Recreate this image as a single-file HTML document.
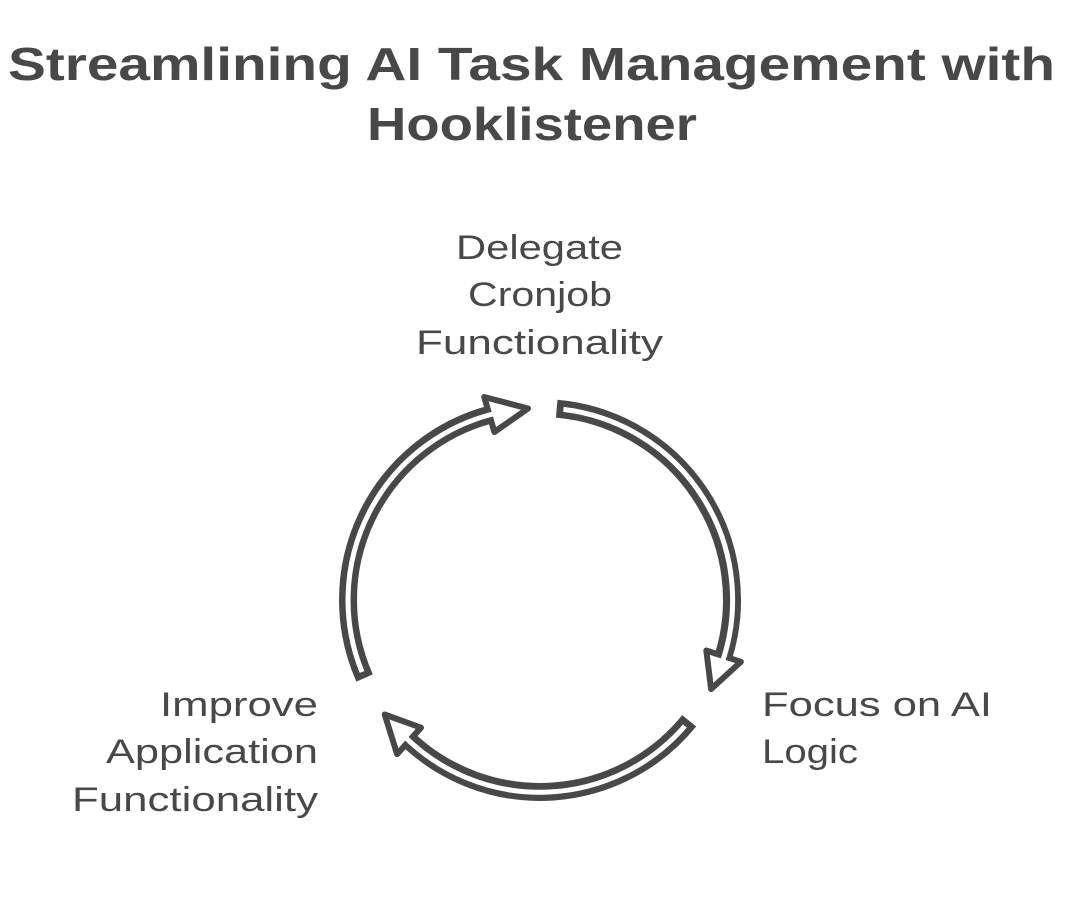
<!DOCTYPE html>
<html><head><meta charset="utf-8"><style>
html,body{margin:0;padding:0;background:#fff;}
svg{display:block;}
text{font-family:"Liberation Sans",sans-serif;fill:#484848;}
.t{font-weight:bold;font-size:46px;}
.l{font-size:34px;}
</style></head><body>
<svg width="1080" height="920" viewBox="0 0 1080 920" xmlns="http://www.w3.org/2000/svg">
<text class="t" x="8" y="80" textLength="1047" lengthAdjust="spacingAndGlyphs">Streamlining AI Task Management with</text>
<text class="t" x="367" y="140" textLength="330" lengthAdjust="spacingAndGlyphs">Hooklistener</text>

<text class="l" x="456" y="259" textLength="167" lengthAdjust="spacingAndGlyphs">Delegate</text>
<text class="l" x="468" y="306" textLength="144" lengthAdjust="spacingAndGlyphs">Cronjob</text>
<text class="l" x="416" y="354" textLength="247" lengthAdjust="spacingAndGlyphs">Functionality</text>

<text class="l" x="762" y="716" textLength="230" lengthAdjust="spacingAndGlyphs">Focus on AI</text>
<text class="l" x="762" y="763" textLength="96" lengthAdjust="spacingAndGlyphs">Logic</text>

<text class="l" x="160" y="716" textLength="158" lengthAdjust="spacingAndGlyphs">Improve</text>
<text class="l" x="106" y="763" textLength="212" lengthAdjust="spacingAndGlyphs">Application</text>
<text class="l" x="72" y="811" textLength="246" lengthAdjust="spacingAndGlyphs">Functionality</text>

<g fill="none" stroke-linejoin="round">
  <!-- arrow 1 -->
  <path d="M364.6,678 A192,192 0 0 1 490.3,414.5" stroke="#484848" stroke-width="18"/>
  <polygon points="494.4,432 528,408.5 484.2,397" fill="#fff" stroke="#484848" stroke-width="6"/>
  <path d="M362,672 A192,192 0 0 1 497,413" stroke="#fff" stroke-width="5"/>
  <!-- arrow 2 -->
  <path d="M556.7,408.7 A192,192 0 0 1 723.6,656.1" stroke="#484848" stroke-width="18"/>
  <polygon points="706.3,650.5 711.1,689 740.9,661.8" fill="#fff" stroke="#484848" stroke-width="6"/>
  <path d="M563.4,409.4 A192,192 0 0 1 722,663" stroke="#fff" stroke-width="5"/>
  <!-- arrow 3 -->
  <path d="M689.2,720.8 A192,192 0 0 1 409.1,740.4" stroke="#484848" stroke-width="18"/>
  <polygon points="421,727.7 384.7,714.5 397.1,754.1" fill="#fff" stroke="#484848" stroke-width="6"/>
  <path d="M684.9,726 A192,192 0 0 1 404,736" stroke="#fff" stroke-width="5"/>
</g>
</svg>
</body></html>
